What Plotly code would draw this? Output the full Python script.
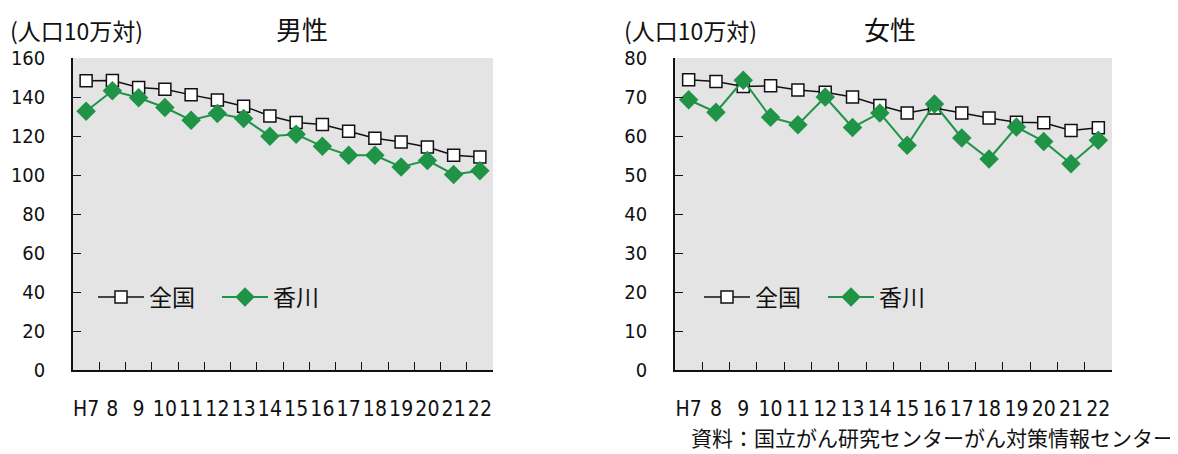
import plotly.graph_objects as go

years = ["H7", "8", "9", "10", "11", "12", "13", "14", "15", "16", "17", "18", "19", "20", "21", "22"]

male_national = [148.3, 148.5, 144.9, 144.0, 141.1, 138.5, 135.3, 130.3, 126.9, 125.9, 122.4, 118.8, 116.9, 114.4, 110.1, 109.2]
male_kagawa = [132.7, 143.2, 139.6, 134.6, 128.1, 131.5, 129.0, 119.9, 120.9, 114.7, 110.1, 110.1, 104.1, 107.5, 100.3, 102.2]

female_national = [74.4, 74.0, 72.7, 72.9, 71.8, 71.2, 70.0, 67.8, 65.9, 67.2, 65.9, 64.6, 63.5, 63.4, 61.4, 62.1]
female_kagawa = [69.3, 66.1, 74.3, 64.8, 62.9, 70.0, 62.2, 65.9, 57.6, 68.2, 59.5, 54.1, 62.3, 58.6, 52.9, 58.9]

series_names = ["全国", "香川"]
panel_titles = ["男性", "女性"]
unit_label = "(人口10万対)"
source_text = "資料：国立がん研究センターがん対策情報センター"

FONT = "DejaVu Sans Condensed, Liberation Sans Narrow, Roboto, sans-serif"
CJK = "Noto Sans CJK JP, sans-serif"
GREEN = "#1f9447"
BG = "#e4e4e4"

W, H = 1170, 446  # page body has an 8px margin


def px(x):
    return x / W


def py(y):
    return 1 - y / H


fig = go.Figure()

panels = [
    (male_national, male_kagawa, "x", "y", "legend"),
    (female_national, female_kagawa, "x2", "y2", "legend2"),
]
for nat, kag, xa, ya, lg in panels:
    fig.add_trace(go.Scatter(
        x=years, y=nat, name=series_names[0], xaxis=xa, yaxis=ya, legend=lg,
        mode="lines+markers",
        line=dict(color="#111111", width=1.5),
        marker=dict(symbol="square", size=12, color="white", line=dict(color="#111111", width=1.5)),
    ))
    fig.add_trace(go.Scatter(
        x=years, y=kag, name=series_names[1], xaxis=xa, yaxis=ya, legend=lg,
        mode="lines+markers",
        line=dict(color=GREEN, width=2),
        marker=dict(symbol="diamond", size=15, color=GREEN, line=dict(color=GREEN, width=0)),
    ))

xcommon = dict(
    type="category", range=[-0.5, len(years) - 0.5],
    tickmode="array", tickvals=years, ticktext=years, tickangle=0,
    showline=True, linecolor="#111111", linewidth=2,
    ticks="inside", ticklen=8, tickcolor="#111111", tickwidth=1.2,
    tickson="boundaries", showgrid=False, zeroline=False,
    tickfont=dict(family=FONT, size=21, color="#111111"),
    ticklabelstandoff=19, fixedrange=True, automargin=False,
)
ycommon = dict(
    showline=True, linecolor="#111111", linewidth=1.5,
    ticks="inside", ticklen=8, tickcolor="#111111", tickwidth=1.2,
    showgrid=False, zeroline=False,
    tickfont=dict(family=FONT, size=20, color="#111111"),
    ticklabelstandoff=22, fixedrange=True, automargin=False,
)

ydom = [py(362), py(50)]
legend_common = dict(
    orientation="h", xanchor="left", yanchor="middle",
    bgcolor="rgba(0,0,0,0)", font=dict(family=CJK, size=23, color="#111111"),
    itemwidth=46, entrywidth=63, entrywidthmode="pixels",
)
fig.update_layout(
    width=W, height=H,
    margin=dict(l=0, r=0, t=0, b=0),
    paper_bgcolor="white", plot_bgcolor=BG,
    showlegend=True,
    xaxis=dict(domain=[px(65), px(485)], anchor="y", **xcommon),
    yaxis=dict(domain=ydom, anchor="x", range=[0, 160], dtick=20, **ycommon),
    xaxis2=dict(domain=[px(667), px(1104)], anchor="y2", **xcommon),
    yaxis2=dict(domain=ydom, anchor="x2", range=[0, 80], dtick=10, **ycommon),
    legend=dict(x=px(85), y=py(289), **legend_common),
    legend2=dict(x=px(691), y=py(289), **legend_common),
)

for title, cx in zip(panel_titles, (294, 882)):
    fig.add_annotation(text=title, x=px(cx), y=py(0), xref="paper", yref="paper",
                       showarrow=False, xanchor="center", yanchor="top",
                       font=dict(family=CJK, size=26, color="#111111"))
for lx in (0, 614):
    fig.add_annotation(text=unit_label, x=px(lx), y=py(22), xref="paper", yref="paper",
                       showarrow=False, xanchor="left", yanchor="middle",
                       font=dict(family=CJK, size=23, color="#111111"))
fig.add_annotation(text=source_text, x=px(1168), y=py(429), xref="paper", yref="paper",
                   showarrow=False, xanchor="right", yanchor="middle",
                   font=dict(family=CJK, size=21, color="#111111"))

fig.write_html("out.html")
